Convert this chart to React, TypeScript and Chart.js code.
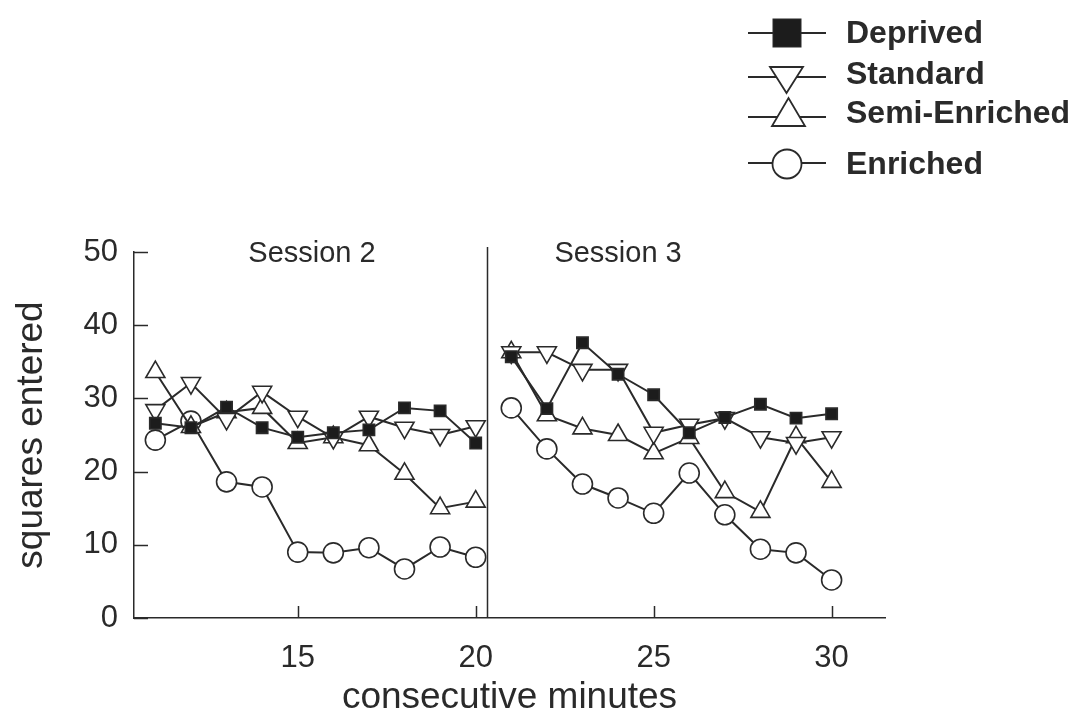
import React, { useEffect, useRef } from 'react';
import { Chart, registerables } from 'chart.js';

Chart.register(...registerables);

// ---- data ----
const minutes = [11, 12, 13, 14, 15, 16, 17, 18, 19, 20, 21, 22, 23, 24, 25, 26, 27, 28, 29, 30];
const deprived = [26.6, 26.0, 28.8, 26.0, 24.7, 25.3, 25.7, 28.7, 28.3, 23.9, 35.7, 28.6, 37.6, 33.3, 30.5, 25.3, 27.4, 29.2, 27.3, 27.9];
const standard = [28.4, 32.1, 27.2, 30.9, 27.5, 24.6, 27.5, 26.0, 25.0, 26.2, 36.3, 36.3, 33.9, 33.9, 25.3, 26.4, 27.3, 24.7, 23.9, 24.7];
const semiEnriched = [33.6, 26.1, 28.1, 28.7, 23.9, 24.7, 23.6, 19.7, 15.0, 15.9, 36.3, 27.7, 25.9, 25.0, 22.5, 24.6, 17.2, 14.5, 24.7, 18.6];
const enriched = [24.3, 26.9, 18.6, 17.9, 9.0, 8.9, 9.6, 6.7, 9.7, 8.3, 28.7, 23.1, 18.3, 16.4, 14.3, 19.8, 14.1, 9.4, 8.9, 5.2];

const seriesNames = ['Deprived', 'Standard', 'Semi-Enriched', 'Enriched'];
const xTickValues = [15, 20, 25, 30];
const yTickValues = [0, 10, 20, 30, 40, 50];
const sessionLabels = ['Session 2', 'Session 3'];
const sessionLabelMinutes = [15.4, 24.0];
const sessionLabelValue = 50;
const lastMinuteOfSession2 = 20;
const sessionDivider = 20.33;

const FONT = "'Liberation Sans', Arial, Helvetica, sans-serif";
const INK = '#2a2a2a';

const toPoints = (vals: number[]) => minutes.map((m, i) => ({ x: m, y: vals[i] }));

const overlayPlugin = {
  id: 'overlay',
  afterDraw(chart: any) {
    const { ctx, chartArea } = chart;
    const xs = chart.scales.x;
    const ys = chart.scales.y;
    ctx.save();
    ctx.strokeStyle = INK;
    ctx.lineWidth = 1.5;
    // inward ticks
    ys.ticks.forEach((t: any) => {
      const py = Math.round(ys.getPixelForValue(t.value)) + 0.5;
      ctx.beginPath();
      ctx.moveTo(chartArea.left, py);
      ctx.lineTo(chartArea.left + 14, py);
      ctx.stroke();
    });
    xs.ticks.forEach((t: any) => {
      const px = Math.round(xs.getPixelForValue(t.value)) + 0.5;
      ctx.beginPath();
      ctx.moveTo(px, chartArea.bottom);
      ctx.lineTo(px, chartArea.bottom - 12);
      ctx.stroke();
    });
    // session divider
    const dx = Math.round(xs.getPixelForValue(sessionDivider)) + 0.5;
    ctx.beginPath();
    ctx.moveTo(dx, chartArea.top - 5);
    ctx.lineTo(dx, chartArea.bottom);
    ctx.stroke();
    // session labels
    ctx.fillStyle = INK;
    ctx.font = `29px ${FONT}`;
    ctx.textAlign = 'center';
    ctx.textBaseline = 'middle';
    sessionLabels.forEach((s, i) => {
      ctx.fillText(s, xs.getPixelForValue(sessionLabelMinutes[i]), ys.getPixelForValue(sessionLabelValue) + 2);
    });
    ctx.restore();
  },
};

function Legend() {
  const lineY = [33, 77, 117, 163];
  const textY = [32, 73, 112, 163];
  return (
    <div style={{ position: 'absolute', left: 0, top: 0, width: 1083, height: 200, pointerEvents: 'none' }}>
      <svg width={1083} height={200} style={{ position: 'absolute', left: 0, top: 0 }}>
        {lineY.map((y, i) => (
          <line key={i} x1={748} x2={826} y1={y} y2={y} stroke={INK} strokeWidth={1.8} />
        ))}
        <rect x={773} y={19} width={28} height={28} fill="#1c1c1c" stroke={INK} strokeWidth={1} />
        <polygon points="770,67 803,67 786.5,93" fill="#fff" stroke={INK} strokeWidth={1.8} />
        <polygon points="772,126 805,126 788.5,98" fill="#fff" stroke={INK} strokeWidth={1.8} />
        <circle cx={787} cy={164} r={14.5} fill="#fff" stroke={INK} strokeWidth={1.8} />
      </svg>
      {seriesNames.map((n, i) => (
        <div
          key={n}
          style={{
            position: 'absolute',
            left: 846,
            top: textY[i],
            transform: 'translateY(-50%)',
            font: `bold 32px ${FONT}`,
            color: INK,
            lineHeight: '36px',
            whiteSpace: 'nowrap',
          }}
        >
          {n}
        </div>
      ))}
    </div>
  );
}

export default function App() {
  const ref = useRef<HTMLCanvasElement | null>(null);

  useEffect(() => {
    if (!ref.current) return;
    const segment = {
      borderColor: (c: any) => (c.p0.parsed.x === lastMinuteOfSession2 ? 'rgba(0,0,0,0)' : INK),
    };
    const base = {
      borderColor: INK,
      borderWidth: 2,
      pointBorderColor: INK,
      pointBorderWidth: 1.6,
      tension: 0,
      fill: false,
      segment,
    };
    const chart = new Chart(ref.current, {
      type: 'line',
      data: {
        datasets: [
          { ...base, label: seriesNames[0], data: toPoints(deprived), pointStyle: 'rect', pointRadius: 8, pointBackgroundColor: '#1c1c1c' },
          { ...base, label: seriesNames[1], data: toPoints(standard), pointStyle: 'triangle', pointRotation: 180, pointRadius: 11, pointBackgroundColor: '#fff' },
          { ...base, label: seriesNames[2], data: toPoints(semiEnriched), pointStyle: 'triangle', pointRadius: 11, pointBackgroundColor: '#fff' },
          { ...base, label: seriesNames[3], data: toPoints(enriched), pointStyle: 'circle', pointRadius: 10, pointBackgroundColor: '#fff' },
        ],
      },
      options: {
        responsive: false,
        animation: false,
        events: [],
        layout: { padding: { left: 0, top: 252, right: 198, bottom: 0 } },
        plugins: { legend: { display: false }, tooltip: { enabled: false } },
        scales: {
          x: {
            type: 'linear',
            min: 10.4,
            max: 31.5,
            afterBuildTicks: (s: any) => {
              s.ticks = xTickValues.map((v) => ({ value: v }));
            },
            afterFit: (s: any) => {
              s.height = 102;
            },
            grid: { display: false, drawTicks: false },
            border: { display: true, color: INK, width: 1.5 },
            ticks: { color: INK, font: { family: FONT, size: 31 }, padding: 22, maxRotation: 0, autoSkip: false },
            title: { display: true, text: 'consecutive minutes', color: INK, font: { family: FONT, size: 37 }, padding: 0 },
          },
          y: {
            type: 'linear',
            min: 0,
            max: 50,
            afterBuildTicks: (s: any) => {
              s.ticks = yTickValues.map((v) => ({ value: v }));
            },
            afterFit: (s: any) => {
              s.width = 134;
            },
            grid: { display: false, drawTicks: false },
            border: { display: true, color: INK, width: 1.5 },
            ticks: { color: INK, font: { family: FONT, size: 31 }, padding: 16 },
            title: { display: true, text: 'squares entered', color: INK, font: { family: FONT, size: 37 }, padding: { top: 10, bottom: 0 } },
          },
        },
      },
      plugins: [overlayPlugin],
    });
    return () => chart.destroy();
  }, []);

  return (
    <div style={{ position: 'fixed', left: 0, top: 0, width: 1083, height: 720, background: '#fff' }}>
      <canvas ref={ref} width={1083} height={720} style={{ position: 'absolute', left: 0, top: 0 }} />
      <Legend />
    </div>
  );
}
